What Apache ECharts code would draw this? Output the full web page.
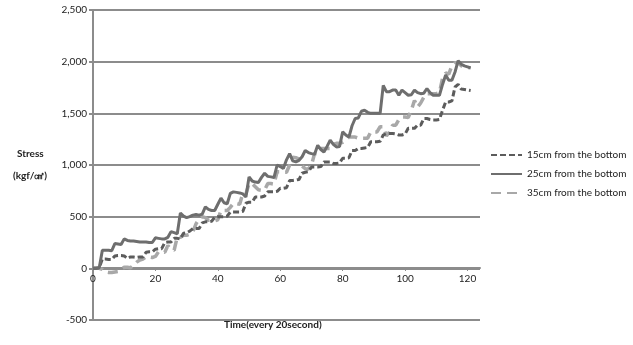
<!DOCTYPE html>
<html>
<head>
<meta charset="utf-8">
<script src="https://cdn.jsdelivr.net/npm/echarts@6/dist/echarts.min.js"></script>
<style>
html,body{margin:0;padding:0;background:#fff;}
#chart{width:633px;height:345px;}
</style>
</head>
<body>
<div id="chart"></div>
<script>
// Series names
var seriesNames = ["15cm from the bottom", "25cm from the bottom", "35cm from the bottom"];
// X tick labels (time, every 20 second)
var xTicks = [0, 20, 40, 60, 80, 100, 120];
// Y tick labels
var yTicks = [-500, 0, 500, 1000, 1500, 2000, 2500];

// Stress values, one per time step (t = 0, 1, 2, ...)
var s15 = [0,0,5,90,90,85,85,120,125,125,120,95,110,110,105,110,110,155,160,160,
185,190,190,250,255,255,290,290,285,340,345,360,385,385,385,440,450,450,455,495,
500,500,500,505,545,545,545,545,550,630,640,640,690,690,690,700,740,740,740,745,
775,775,780,850,850,855,860,920,930,935,980,980,980,985,1030,1030,1030,1015,1015,1020,
1065,1065,1070,1140,1140,1160,1160,1165,1170,1225,1225,1225,1230,1290,1305,1305,1305,1300,1290,1290,
1300,1355,1355,1355,1385,1385,1450,1450,1440,1435,1435,1440,1530,1610,1610,1620,1755,1780,1735,1730,
1725,1720];

var s25 = [0,0,5,175,175,175,170,240,235,230,285,270,265,265,260,255,255,255,250,250,
295,290,285,285,300,355,345,335,535,505,490,500,515,520,515,525,595,570,560,560,
620,680,635,625,725,740,735,730,720,690,885,845,835,830,880,920,890,885,880,1000,
985,965,1050,1110,1040,1030,1045,1080,1140,1120,1110,1105,1190,1150,1125,1180,1240,1200,1175,1180,
1320,1290,1270,1380,1450,1455,1520,1530,1510,1500,1500,1500,1500,1770,1710,1710,1725,1725,1675,1725,
1700,1675,1680,1725,1700,1690,1695,1740,1700,1675,1675,1675,1780,1870,1820,1820,1900,2010,1975,1960,
1950,1940];

var s35 = [0,0,0,-10,-35,-40,-40,-35,-30,-10,10,10,5,30,60,80,90,110,110,105,
115,160,160,155,220,185,175,305,300,320,320,330,350,430,480,500,490,465,465,460,
470,560,560,560,590,630,625,620,725,720,820,820,790,760,755,760,820,820,815,935,
935,930,930,1000,1075,1070,1060,990,965,960,1000,1110,1110,1160,1160,1160,1160,1200,1210,1210,
1220,1240,1270,1270,1270,1260,1260,1260,1260,1320,1320,1320,1370,1370,1280,1320,1385,1385,1440,1465,
1465,1460,1530,1625,1560,1600,1655,1690,1690,1690,1690,1700,1840,1890,1880,1960,1990,1990,1960,1950,
1945,1940];

function pairs(arr){ return arr.map(function(v,i){ return [i, v]; }); }

var FONT = "Lato, 'Open Sans', sans-serif";
var chart = echarts.init(document.getElementById('chart'), null, {renderer:'canvas'});
chart.setOption({
  animation:false,
  backgroundColor:'#ffffff',
  grid:{left:93, right:153, top:10, bottom:25, containLabel:false},
  legend:{
    orient:'vertical', left:485, top:145,
    itemWidth:31, itemHeight:10, itemGap:9,
    itemStyle:{opacity:0},
    textStyle:{fontFamily:FONT, fontSize:10, color:'#222'},
    data:seriesNames
  },
  xAxis:{
    type:'value', min:0, max:124, position:'bottom', offset:-52,
    axisLine:{show:true, onZero:false, lineStyle:{color:'#8c8c8c', width:2}},
    axisTick:{show:true, length:3, lineStyle:{color:'#8c8c8c', width:1}, customValues:xTicks},
    axisLabel:{fontFamily:FONT, fontSize:10, color:'#222', margin:6, customValues:xTicks},
    splitLine:{show:false}
  },
  yAxis:{
    type:'value', min:-500, max:2500, interval:500,
    axisLine:{show:true, lineStyle:{color:'#8c8c8c', width:2}},
    axisTick:{show:true, length:4, lineStyle:{color:'#8c8c8c', width:2}},
    axisLabel:{fontFamily:FONT, fontSize:10, color:'#222', margin:6,
      formatter:function(v){ return v.toLocaleString('en-US'); }},
    splitLine:{show:true, lineStyle:{color:'#8c8c8c', width:2}}
  },
  graphic:[
    {type:'text', left:17, top:149, style:{text:'Stress', fontFamily:FONT, fontSize:10, fontWeight:'bold', fill:'#222'}},
    {type:'text', left:13, top:171, style:{text:'(kgf/㎠)', fontFamily:FONT, fontSize:10, fontWeight:'bold', fill:'#222'}},
    {type:'text', left:224, top:320, style:{text:'Time(every 20second)', fontFamily:FONT, fontSize:10, fontWeight:'bold', fill:'#222'}}
  ],
  series:[
    {name:seriesNames[0], type:'line', data:pairs(s15), symbol:'none', showSymbol:false, z:3,
     lineStyle:{color:'#5c5c5c', width:3, type:[6,3]}, itemStyle:{color:'#5c5c5c'}},
    {name:seriesNames[1], type:'line', data:pairs(s25), symbol:'none', showSymbol:false, z:4,
     lineStyle:{color:'#6e6e6e', width:3, type:'solid'}, itemStyle:{color:'#6e6e6e'}},
    {name:seriesNames[2], type:'line', data:pairs(s35), symbol:'none', showSymbol:false, z:2,
     lineStyle:{color:'#a8a8a8', width:3.5, type:[10,6]}, itemStyle:{color:'#a8a8a8'}}
  ]
});
</script>
</body>
</html>
